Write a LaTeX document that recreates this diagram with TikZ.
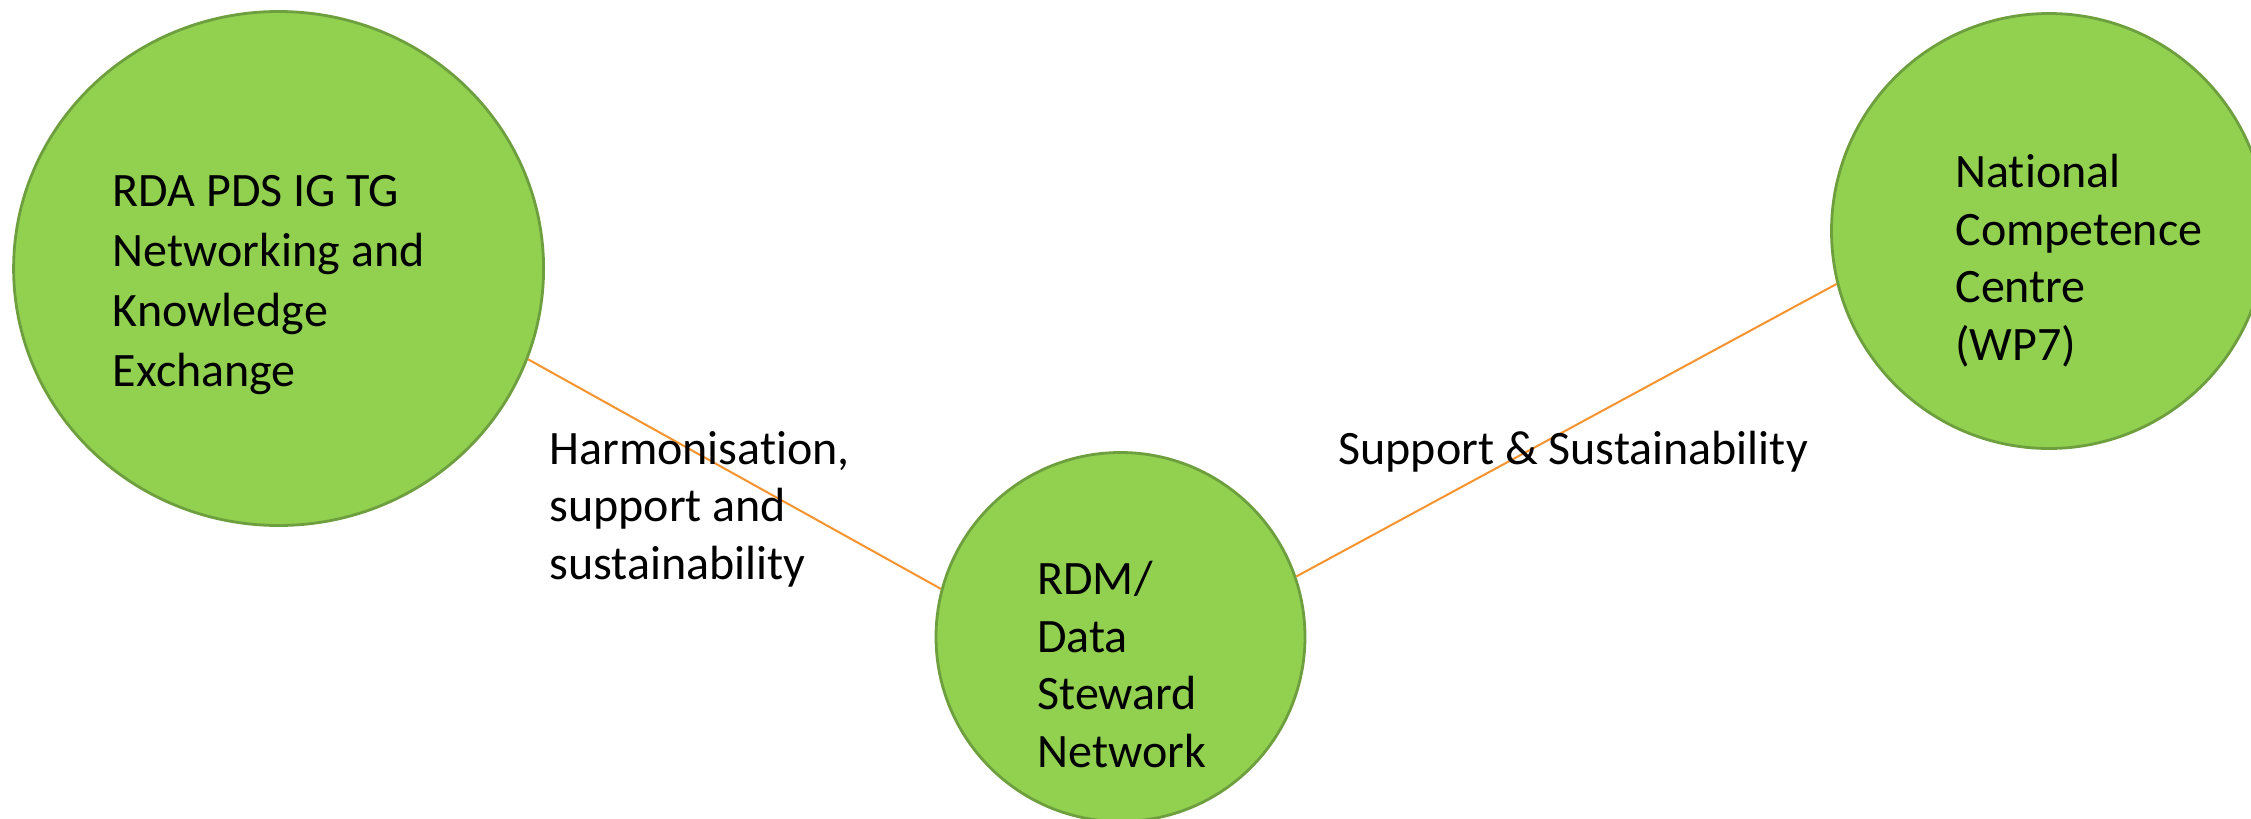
\documentclass[tikz,border=0pt]{standalone}
\usepackage{fontspec}
\setmainfont{Carlito}[Ligatures={NoCommon,NoContextual,NoRequired}]
\usetikzlibrary{shapes.geometric}
\definecolor{bubblefill}{HTML}{92D050}
\definecolor{bubbleline}{HTML}{6E9F3F}
\definecolor{linkline}{HTML}{F6932E}
\tikzset{
  bubble/.style={ellipse, draw=bubbleline, line width=1.4pt, fill=bubblefill, inner sep=0pt},
  bubbletext/.style={anchor=base west, align=left, inner sep=0pt, font=\fontsize{24}{28.75}\selectfont},
  linktext/.style={anchor=base west, align=left, inner sep=0pt, font=\fontsize{24}{28.75}\selectfont},
  link/.style={draw=linkline, line width=1pt}
}
\begin{document}
\begin{tikzpicture}[x=0.5pt, y=-0.5pt]
\useasboundingbox (0,0) rectangle (2251,819);
\clip (0,0) rectangle (2251,819);
\node[bubble, minimum width=265pt, minimum height=257pt] (rda) at (278.6,268.5) {};
\node[bubble, minimum width=184.5pt, minimum height=184.5pt] (rdm) at (1120.5,637) {};
\node[bubble, minimum width=217.5pt, minimum height=217.5pt] (ncc) at (2049,231) {};
\draw[link] (rda.-20.6) -- (rdm.165);
\draw[link] (rdm.19.3) -- (ncc.194.1);
\node[bubbletext, font=\fontsize{24}{30}\selectfont] (rdatext) at (112.5,386) {RDA PDS IG TG\\Networking and\\Knowledge\\Exchange};
\node[bubbletext] (rdmtext) at (1037,767) {RDM/\\Data\\Steward\\Network};
\node[bubbletext] (ncctext) at (1955,360) {National\\Competence\\Centre\\(WP7)};
\node[linktext] (harm) at (549,579) {Harmonisation,\\support and\\sustainability};
\node[linktext] (supp) at (1338,464) {Support \& Sustainability};
\end{tikzpicture}
\end{document}
